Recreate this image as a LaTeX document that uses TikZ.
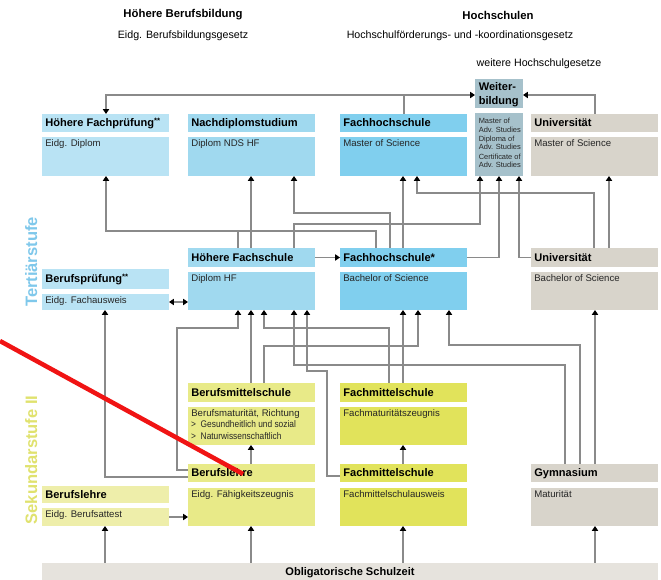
\documentclass[tikz,border=0pt]{standalone}
\usepackage{fontspec}
\setmainfont{Liberation Sans}
\usetikzlibrary{arrows.meta,fit}
\definecolor{cA}{HTML}{B9E3F4}
\definecolor{cB}{HTML}{A0D9EF}
\definecolor{cC}{HTML}{80CFEE}
\definecolor{cW}{HTML}{A6C1CB}
\definecolor{cU}{HTML}{D8D4CB}
\definecolor{cY}{HTML}{E8EA88}
\definecolor{cYl}{HTML}{EEEEAA}
\definecolor{cF}{HTML}{E1E35B}
\definecolor{cO}{HTML}{E6E3DD}
\definecolor{cLine}{HTML}{8A8A8A}
\definecolor{cTer}{HTML}{7FC8EB}
\definecolor{cSek}{HTML}{E0E26E}
\definecolor{cRed}{HTML}{F01414}
\tikzset{
  boxs/.style={inner sep=0pt, outer sep=0pt, draw=none},
  ttl/.style={inner sep=0pt, font=\bfseries\fontsize{8.3}{10}\selectfont},
  bt/.style={inner sep=0pt, font=\fontsize{7.2}{8.6}\selectfont, text=black!85},
  sm/.style={inner sep=0pt, font=\fontsize{5.6}{6.5}\selectfont, text=black!85},
  conn/.style={draw=cLine, line width=0.9pt},
  arr/.style={conn, -{Triangle[length=3.6pt,width=4.6pt,color=black]}},
  darr/.style={conn, {Triangle[length=3.6pt,width=4.6pt,color=black]}-{Triangle[length=3.6pt,width=4.6pt,color=black]}},
}
\newcommand\hdr[7]{\node[boxs, fill=#6, fit={(#2,#3) (#4,#5)}] (#1) {};
  \node[ttl, anchor=base west] (#1t) at ([xshift=2.3pt,yshift=-3pt]#1.west) {#7};}
\newcommand\bdy[7]{\node[boxs, fill=#6, fit={(#2,#3) (#4,#5)}] (#1) {};
  \node[bt, anchor=base west] (#1t) at ([xshift=2.3pt,yshift=-6.8pt]#1.north west) {#7};}
\begin{document}
\begin{tikzpicture}[x=0.75pt, y=-0.75pt]
\useasboundingbox (0,0) rectangle (661,580);
\fill[white] (0,0) rectangle (661,580);

% headings
\node[inner sep=0pt, font=\bfseries\fontsize{8.5}{10}\selectfont] (t1) at (183,15) {Höhere Berufsbildung};
\node[inner sep=0pt, font=\fontsize{8}{10}\selectfont] (t2) at (183,36) {Eidg. Berufsbildungsgesetz};
\node[inner sep=0pt, font=\bfseries\fontsize{8.5}{10}\selectfont] (t3) at (498,15) {Hochschulen};
\node[inner sep=0pt, font=\fontsize{8}{10}\selectfont] (t4) at (460,36) {Hochschulförderungs- und -koordinationsgesetz};
\node[inner sep=0pt, font=\fontsize{8}{10}\selectfont] (t5) at (539,64) {weitere Hochschulgesetze};

% side labels
\node[rotate=90, anchor=base, inner sep=0pt, font=\bfseries\fontsize{12.4}{14}\selectfont, text=cTer] (ter) at (37,262) {Tertiärstufe};
\node[rotate=90, anchor=base, inner sep=0pt, font=\bfseries\fontsize{12.4}{14}\selectfont, text=cSek] (sek) at (37,460) {Sekundarstufe II};

% top row
\hdr{hfpH}{42}{114}{169}{132}{cA}{Höhere Fachprüfung\textsuperscript{**}}
\bdy{hfpB}{42}{137}{169}{176}{cA}{Eidg. Diplom}
\hdr{ndsH}{188}{114}{315}{132}{cB}{Nachdiplomstudium}
\bdy{ndsB}{188}{137}{315}{176}{cB}{Diplom NDS HF}
\hdr{fhmH}{340}{114}{467}{132}{cC}{Fachhochschule}
\bdy{fhmB}{340}{137}{467}{176}{cC}{Master of Science}
\node[boxs, fill=cW, fit={(475,79) (523,108)}] (wbH) {};
\node[ttl, anchor=base west] (wbt1) at (478.5,91) {Weiter-};
\node[ttl, anchor=base west] (wbt2) at (478.5,105) {bildung};
\node[boxs, fill=cW, fit={(475,113) (523,176)}] (wbB) {};
\node[sm, anchor=base west] (wbs1) at (478.5,124) {Master of};
\node[sm, anchor=base west] (wbs2) at (478.5,132.5) {Adv. Studies};
\node[sm, anchor=base west] (wbs3) at (478.5,141.5) {Diploma of};
\node[sm, anchor=base west] (wbs4) at (478.5,150) {Adv. Studies};
\node[sm, anchor=base west] (wbs5) at (478.5,159.5) {Certificate of};
\node[sm, anchor=base west] (wbs6) at (478.5,168) {Adv. Studies};
\hdr{unimH}{531}{114}{658}{132}{cU}{Universität}
\bdy{unimB}{531}{137}{658}{176}{cU}{Master of Science}

% middle row
\hdr{hfH}{188}{248}{315}{267}{cB}{Höhere Fachschule}
\bdy{hfB}{188}{272}{315}{310}{cB}{Diplom HF}
\hdr{fhbH}{340}{248}{467}{267}{cC}{Fachhochschule*}
\bdy{fhbB}{340}{272}{467}{310}{cC}{Bachelor of Science}
\hdr{unibH}{531}{248}{658}{267}{cU}{Universität}
\bdy{unibB}{531}{272}{658}{310}{cU}{Bachelor of Science}
\hdr{bpH}{42}{269}{169}{289}{cA}{Berufsprüfung\textsuperscript{**}}
\bdy{bpB}{42}{294}{169}{310}{cA}{Eidg. Fachausweis}

% lower rows
\hdr{bmsH}{188}{383}{315}{402}{cY}{Berufsmittelschule}
\bdy{bmsB}{188}{407}{315}{445}{cY}{Berufsmaturität, Richtung}
\node[bt, anchor=base west, xscale=0.87] (bms2) at (191,428) {>\ \ Gesundheitlich und sozial};
\node[bt, anchor=base west, xscale=0.87] (bms3) at (191,440) {>\ \ Naturwissenschaftlich};
\hdr{fms1H}{340}{383}{467}{402}{cF}{Fachmittelschule}
\bdy{fms1B}{340}{407}{467}{445}{cF}{Fachmaturitätszeugnis}
\hdr{blH}{188}{464}{315}{482}{cY}{Berufslehre}
\bdy{blB}{188}{488}{315}{526}{cY}{Eidg. Fähigkeitszeugnis}
\hdr{fms2H}{340}{464}{467}{482}{cF}{Fachmittelschule}
\bdy{fms2B}{340}{488}{467}{526}{cF}{Fachmittelschulausweis}
\hdr{gymH}{531}{464}{658}{482}{cU}{Gymnasium}
\bdy{gymB}{531}{488}{658}{526}{cU}{Maturität}
\hdr{baH}{42}{486}{169}{503}{cYl}{Berufslehre}
\bdy{baB}{42}{508}{169}{526}{cYl}{Eidg. Berufsattest}
\node[boxs, fill=cO, fit={(42,563) (658,580)}] (obl) {};
\node[ttl, anchor=base] (oblt) at ([yshift=-3pt]obl.center) {Obligatorische Schulzeit};

% connectors, top
\coordinate (j95) at (404,95);
\draw[conn] (fhmH.north -| 404,0) -- (j95);
\draw[arr] (j95) -- (wbH.west |- j95);
\draw[arr] (j95) -| (hfpH.north -| 106,0);
\draw[arr] (unimH.north -| 595,0) |- (wbH.east |- j95);

% connectors, tertiary
\draw[arr] (fhbH.north -| 376,0) |- (106,231) -- (hfpB.south -| 106,0);
\draw[conn] (hfH.north -| 238,0) -- (238,231);
\draw[arr] (hfH.north -| 251,0) -- (ndsB.south -| 251,0);
\draw[arr] (fhbH.north -| 390,0) |- (294,213) -- (ndsB.south -| 294,0);
\draw[arr] (hfH.north -| 294,0) |- (480,224) -- (wbB.south -| 480,0);
\draw[arr] (fhbH.north -| 403,0) -- (fhmB.south -| 403,0);
\draw[arr] (unibH.north -| 594,0) |- (417,193) -- (fhmB.south -| 417,0);
\draw[arr] (fhbH.east) -| (wbB.south -| 499,0);
\draw[arr] (unibH.west) -| (wbB.south -| 519,0);
\draw[arr] (unibH.north -| 609,0) -- (unimB.south -| 609,0);
\draw[arr] (hfH.east) -- (fhbH.west);
\draw[darr] (bpB.east) -- (hfB.west |- bpB.east);

% connectors, secondary
\draw[arr] (blH.west |- 0,470) -- (177,470) |- (238,328) -- (hfB.south -| 238,0);
\draw[arr] (blH.west |- 0,477) -| (bpB.south -| 105,0);
\draw[arr] (bmsH.north -| 251,0) -- (hfB.south -| 251,0);
\draw[arr] (fms1H.north -| 389,0) |- (264,328) -- (hfB.south -| 264,0);
\draw[arr] (gymH.north -| 565,0) |- (294,365) -- (hfB.south -| 294,0);
\draw[arr] (fms2H.west |- 0,476) -- (327,476) |- (307,371) -- (hfB.south -| 307,0);
\draw[arr] (fms1H.north -| 403,0) -- (fhbB.south -| 403,0);
\draw[arr] (bmsH.north -| 264,0) |- (418,346) -- (fhbB.south -| 418,0);
\draw[arr] (gymH.north -| 580,0) |- (449,345) -- (fhbB.south -| 449,0);
\draw[arr] (gymH.north -| 595,0) -- (unibB.south -| 595,0);
\draw[arr] (blH.north -| 251,0) -- (bmsB.south -| 251,0);
\draw[arr] (fms2H.north -| 403,0) -- (fms1B.south -| 403,0);
\draw[arr] (baB.east) -- (blB.west |- baB.east);
\foreach \xx/\tg in {105/baB, 251/blB, 403/fms2B, 595/gymB}
  \draw[arr] (obl.north -| \xx,0) -- (\tg.south -| \xx,0);

% red annotation stroke
\draw[cRed, line width=3.4pt] (0,341) -- (243,474);
\end{tikzpicture}
\end{document}
